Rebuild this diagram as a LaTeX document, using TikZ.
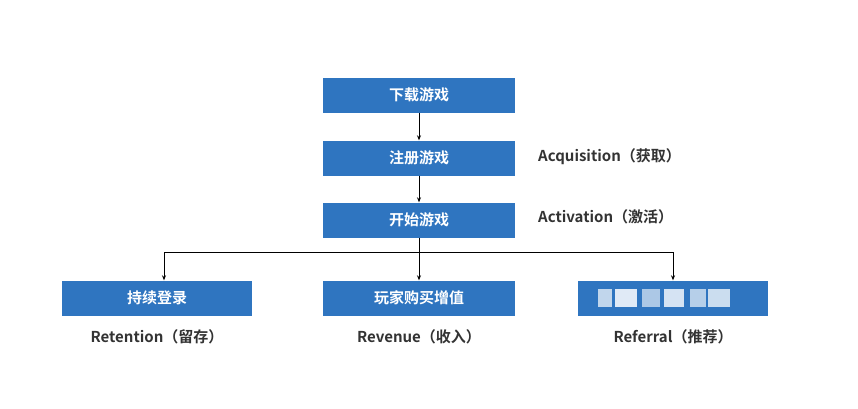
\documentclass[tikz,border=0pt]{standalone}
\usepackage{fontspec}
\setmainfont{Noto Sans CJK SC}[BoldFont={* Bold}]
\usetikzlibrary{arrows.meta}
\definecolor{boxblue}{HTML}{2F75C0}
\definecolor{lab}{HTML}{333333}
\begin{document}
\begin{tikzpicture}[x=1pt,y=-1pt,
  box/.style={draw=none,fill=boxblue,minimum width=192pt,minimum height=35pt,text=white,font=\fontsize{15}{18}\selectfont\bfseries,inner sep=0},
  lbl/.style={text=lab,font=\fontsize{15}{18}\selectfont\bfseries,inner sep=0},
  arr/.style={-{Stealth[length=5pt,width=4pt]},line width=0.7pt,black}]
\useasboundingbox[fill=white] (0,0) rectangle (858,408);
\node[box] (a) at (419,95) {下载游戏};
\node[box] (b) at (419,158) {注册游戏};
\node[box] (c) at (419,220) {开始游戏};
\node[box,minimum width=190pt] (d) at (157,298) {持续登录};
\node[box] (e) at (419,298) {玩家购买增值};
\node[box,minimum width=190pt] (f) at (673,298) {};
\foreach \x/\w/\c in {598/14/white!70!boxblue,615/22/white!85!boxblue,642/18/white!60!boxblue,664/20/white!80!boxblue,690/16/white!65!boxblue,708/22/white!75!boxblue}
  \fill[\c] (\x,289) rectangle ++(\w,18);
\coordinate (j) at (419,252);
\coordinate (jl) at (164,252);
\coordinate (jr) at (673,252);
\draw[arr] (a) -- (b);
\draw[arr] (b) -- (c);
\draw[line width=0.7pt] (c) -- (j);
\draw[line width=0.7pt] (jl) -- (jr);
\draw[arr] (j) -- (e);
\draw[arr] (jl) -- (jl |- d.north);
\draw[arr] (jr) -- (f);
\node[lbl,anchor=west] (acq) at (538,157) {Acquisition（获取）};
\node[lbl,anchor=west] (act) at (538,217) {Activation（激活）};
\node[lbl] (ret) at (157,337) {Retention（留存）};
\node[lbl] (rev) at (419,337) {Revenue（收入）};
\node[lbl] (ref) at (673,337) {Referral（推荐）};
\end{tikzpicture}
\end{document}
